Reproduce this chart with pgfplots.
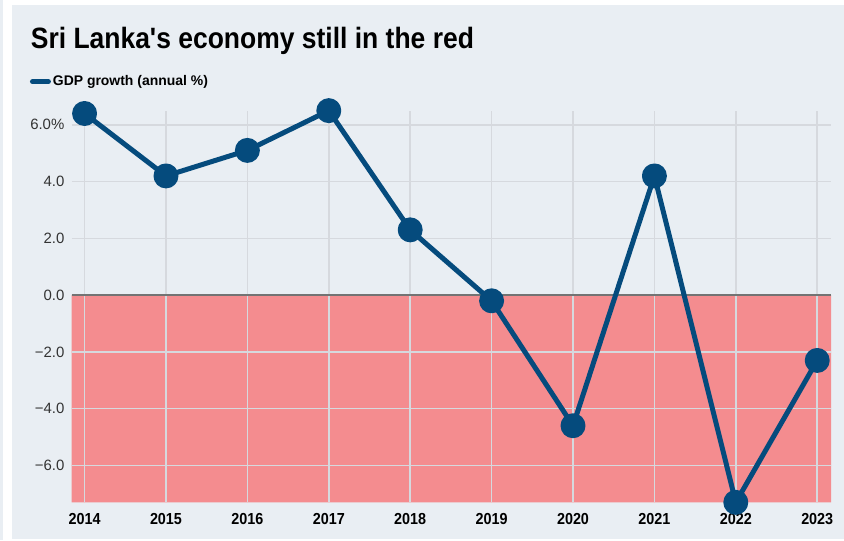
\documentclass[border=0pt]{standalone}
\usepackage{fontspec}
\usepackage{xcolor}
\usepackage{pgfplots}
\pgfplotsset{compat=1.18}
\setmainfont{Liberation Sans}
\newfontfamily\condfont[FakeStretch=0.9]{Liberation Sans}

\definecolor{panel}{HTML}{E9EEF3}
\definecolor{redzone}{HTML}{F48C8F}
\definecolor{gdpblue}{HTML}{054B7D}
\definecolor{gridgrey}{HTML}{D6D9DE}
\definecolor{ticktext}{HTML}{333333}

\begin{document}
\pagecolor{panel}
\begin{tikzpicture}
% page frame: white margin round the grey-blue panel (px ~ pt)
\fill[white] (0pt,0pt) rectangle (9pt,542pt);
\fill[white] (0pt,537pt) rectangle (844pt,542pt);
\fill[white] (0pt,0pt) rectangle (844pt,1pt);

\node[anchor=base west, inner sep=0pt, font=\condfont\bfseries\fontsize{29.5}{32}\selectfont]
  at (28pt,493pt) {Sri Lanka's economy still in the red};

\begin{axis}[
  set layers,
  at={(69pt,38pt)}, anchor=south west,
  scale only axis,
  width=762pt, height=393pt,
  xmin=2013.84, xmax=2023.17,
  ymin=-7.3, ymax=6.5,
  clip=false,
  axis line style={draw=none},
  major tick length=0pt,
  xtick={2014,2015,2016,2017,2018,2019,2020,2021,2022,2023},
  xticklabels={2014,2015,2016,2017,2018,2019,2020,2021,2022,2023},
  ytick={-6,-4,-2,2,4,6},
  yticklabels={−6.0,−4.0,−2.0,2.0,4.0,6.0\%},
  extra y ticks={0},
  extra y tick labels={0.0},
  extra y tick style={grid style={color=black!55, line width=1.3pt}},
  xmajorgrids, ymajorgrids,
  grid style={color=gridgrey, line width=1.6pt},
  xticklabel style={font=\condfont\bfseries\fontsize{16}{18}\selectfont, yshift=-7.5pt},
  yticklabel style={font=\fontsize{15}{17}\selectfont, text=ticktext, xshift=-3.7pt},
  legend style={at={(-0.055,1.074)}, anchor=west, draw=none, fill=none,
    font=\bfseries\fontsize{14}{16}\selectfont, inner sep=0pt,
    legend cell align=left},
  legend image code/.code={\draw[gdpblue, line width=5pt, line cap=round] (0pt,0pt) -- (16pt,0pt);},
]
\addplot[fill=redzone, draw=none, on layer=axis background, forget plot]
  coordinates {(2013.84,0) (2023.17,0) (2023.17,-7.3) (2013.84,-7.3) (2013.84,0)};
\addplot[color=gdpblue, line width=5pt, line join=round,
  mark=*, mark size=10pt, mark options={fill=gdpblue, draw=none}]
  coordinates {
    (2014,6.4) (2015,4.2) (2016,5.1) (2017,6.5) (2018,2.3)
    (2019,-0.2) (2020,-4.6) (2021,4.2) (2022,-7.3) (2023,-2.3)
  };
\addlegendentry{GDP growth (annual \%)}
\end{axis}
\end{tikzpicture}
\end{document}
